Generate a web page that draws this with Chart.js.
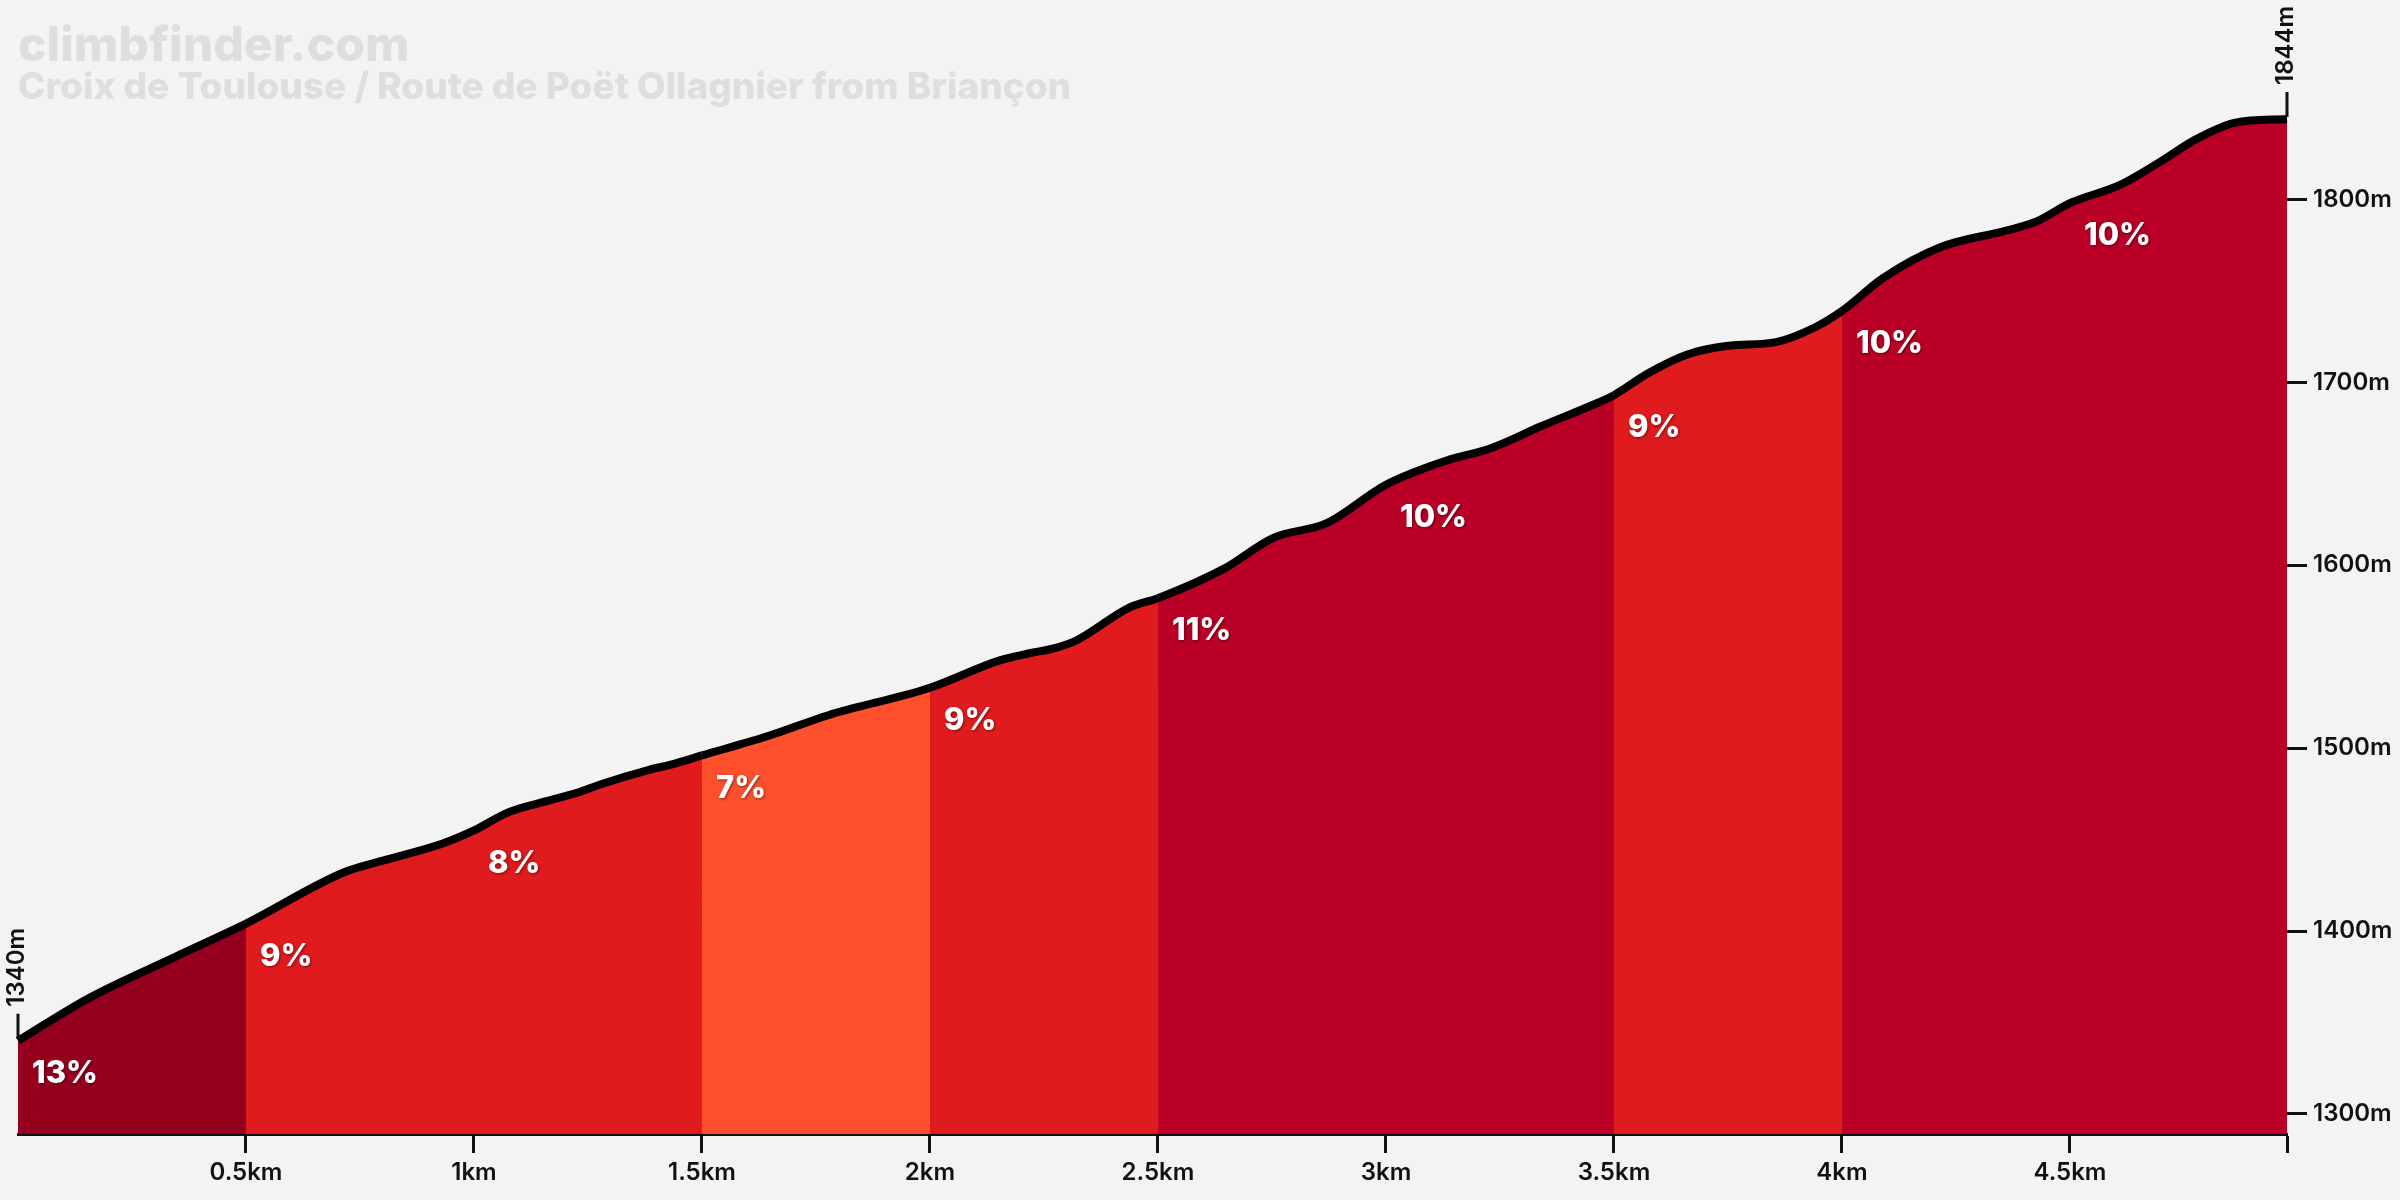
<!DOCTYPE html>
<html>
<head>
<meta charset="utf-8">
<title>Croix de Toulouse / Route de Poët Ollagnier from Briançon</title>
<script src="https://cdn.jsdelivr.net/npm/chart.js@4.4.1/dist/chart.umd.min.js"></script>
<style>
    html, body {
        margin: 0;
        padding: 0;
        background: #f3f3f3;
    }
    #wrap {
        width: 2400px;
        height: 1200px;
        position: relative;
    }
</style>
</head>
<body>
<div id="wrap">
    <canvas id="myChart"></canvas>
</div>
<script>
// profile (km, metres)
const distances = [
    0, 0.153, 0.346, 0.5, 0.714, 0.808, 0.933, 1.0, 1.076, 1.159, 1.231, 1.275,
    1.382, 1.432, 1.5, 1.65, 1.777, 2.0, 2.153, 2.221, 2.278, 2.322, 2.438, 2.5,
    2.644, 2.753, 2.87, 3.0, 3.13, 3.23, 3.34, 3.466, 3.5, 3.575, 3.658, 3.75,
    3.855, 3.94, 4.0, 4.09, 4.217, 4.36, 4.427, 4.5, 4.61, 4.694, 4.777, 4.863, 4.976
];
const elevations = [
    1340, 1363, 1386, 1404, 1432, 1439, 1448, 1455, 1465, 1471, 1476, 1480,
    1488, 1491, 1496, 1507, 1518, 1533, 1548, 1552, 1555, 1559, 1577, 1582,
    1598, 1615, 1623, 1644, 1657, 1664, 1676, 1689, 1693, 1705, 1715, 1720,
    1722, 1730, 1739, 1757, 1774, 1783, 1788, 1798, 1808, 1820, 1833, 1842, 1844
];

// gradient per half kilometre
const segmentStarts = [0, 0.5, 1, 1.5, 2, 2.5, 3, 3.5, 4, 4.5];
const segmentGrades = [13, 9, 8, 7, 9, 11, 10, 9, 10, 10];

const xTicks = [0.5, 1, 1.5, 2, 2.5, 3, 3.5, 4, 4.5];
const yTicks = [1300, 1400, 1500, 1600, 1700, 1800];

const title = "climbfinder.com";
const subtitle = "Croix de Toulouse / Route de Poët Ollagnier from Briançon";

const FONT = "Inter, 'Noto Sans', sans-serif";

function gradeColor(g) {
    if (g >= 13) return "#96001f";
    if (g >= 10) return "#ba0026";
    if (g >= 8) return "#e01b1e";
    return "#fe502c";
}

function gradeAt(x) {
    let g = segmentGrades[0];
    for (let i = 0; i < segmentStarts.length; i++) {
        if (x >= segmentStarts[i] - 1e-9) g = segmentGrades[i];
    }
    return g;
}

function elevationAt(x) {
    for (let i = 1; i < distances.length; i++) {
        if (x <= distances[i]) {
            const t = (x - distances[i - 1]) / (distances[i] - distances[i - 1]);
            return elevations[i - 1] + t * (elevations[i] - elevations[i - 1]);
        }
    }
    return elevations[elevations.length - 1];
}

// background + title text
const backgroundPlugin = {
    id: "background",
    beforeDraw(chart) {
        const ctx = chart.ctx;
        ctx.save();
        ctx.fillStyle = "#f3f3f3";
        ctx.fillRect(0, 0, chart.width, chart.height);
        ctx.fillStyle = "#dedede";
        ctx.textAlign = "left";
        ctx.textBaseline = "alphabetic";
        ctx.font = "800 48px " + FONT;
        ctx.fillText(title, 18, 61);
        ctx.font = "800 37px " + FONT;
        ctx.fillText(subtitle, 18, 99);
        ctx.restore();
    }
};

// grade labels and start / end markers
const labelsPlugin = {
    id: "gradeLabels",
    afterDatasetsDraw(chart) {
        const ctx = chart.ctx;
        const xs = chart.scales.x;
        const ys = chart.scales.y;
        ctx.save();

        ctx.font = "800 31px " + FONT;
        ctx.fillStyle = "#ffffff";
        ctx.textAlign = "left";
        ctx.textBaseline = "middle";
        ctx.shadowColor = "rgba(0, 0, 0, 0.45)";
        ctx.shadowBlur = 3;
        ctx.shadowOffsetX = 1;
        ctx.shadowOffsetY = 1;
        for (let i = 0; i < segmentStarts.length; i++) {
            const px = xs.getPixelForValue(segmentStarts[i]);
            const py = ys.getPixelForValue(elevationAt(segmentStarts[i]));
            ctx.fillText(segmentGrades[i] + "%", px + 14, py + 33);
        }
        ctx.shadowColor = "transparent";

        // markers at the start and the top
        const ends = [0, distances.length - 1];
        ctx.font = "600 24px " + FONT;
        ctx.fillStyle = "#111111";
        ctx.strokeStyle = "#111111";
        ctx.lineWidth = 3;
        ends.forEach(idx => {
            const px = xs.getPixelForValue(distances[idx]);
            const py = ys.getPixelForValue(elevations[idx]);
            ctx.beginPath();
            ctx.moveTo(px, py - 2);
            ctx.lineTo(px, py - 27);
            ctx.stroke();
            ctx.save();
            ctx.translate(px - 1, py - 34);
            ctx.rotate(-Math.PI / 2);
            ctx.textAlign = "left";
            ctx.textBaseline = "middle";
            ctx.fillText(elevations[idx] + "m", 0, 0);
            ctx.restore();
        });

        ctx.restore();
    }
};

const points = distances.map((d, i) => ({ x: d, y: elevations[i] }));

const ctx = document.getElementById("myChart").getContext("2d");

const myChart = new Chart(ctx, {
    type: "line",
    data: {
        datasets: [
            {
                data: points,
                borderColor: "#000000",
                borderWidth: 8,
                borderJoinStyle: "round",
                cubicInterpolationMode: "monotone",
                pointRadius: 0,
                fill: "start",
                backgroundColor: gradeColor(segmentGrades[0]),
                clip: false,
                segment: {
                    backgroundColor: c => gradeColor(gradeAt(c.p0.parsed.x))
                }
            }
        ]
    },
    options: {
        responsive: true,
        maintainAspectRatio: false,
        devicePixelRatio: 1,
        animation: false,
        layout: {
            padding: { left: 18, top: 119, right: 0, bottom: 0 }
        },
        plugins: {
            legend: { display: false },
            tooltip: { enabled: false }
        },
        scales: {
            x: {
                type: "linear",
                min: 0,
                max: distances[distances.length - 1],
                afterBuildTicks: scale => {
                    scale.ticks = xTicks.concat([scale.max]).map(v => ({ value: v }));
                },
                afterFit: scale => {
                    scale.height = 66;
                },
                ticks: {
                    autoSkip: false,
                    maxRotation: 0,
                    padding: 5,
                    color: "#111111",
                    font: { family: FONT, size: 24, weight: "600" },
                    callback: v => (xTicks.includes(v) ? v + "km" : "")
                },
                grid: {
                    drawOnChartArea: false,
                    tickLength: 19,
                    tickWidth: 3,
                    tickColor: "#111111"
                },
                border: { display: true, color: "#111111", width: 3 }
            },
            y: {
                type: "linear",
                position: "right",
                min: 1289,
                max: 1844,
                afterBuildTicks: scale => {
                    scale.ticks = yTicks.map(v => ({ value: v }));
                },
                afterFit: scale => {
                    scale.width = 113;
                },
                ticks: {
                    padding: 6,
                    color: "#111111",
                    font: { family: FONT, size: 24, weight: "600" },
                    callback: v => v + "m"
                },
                grid: {
                    drawOnChartArea: false,
                    tickLength: 20,
                    tickWidth: 3,
                    tickColor: "#111111"
                },
                border: { display: false }
            }
        }
    },
    plugins: [backgroundPlugin, labelsPlugin]
});
</script>
</body>
</html>
